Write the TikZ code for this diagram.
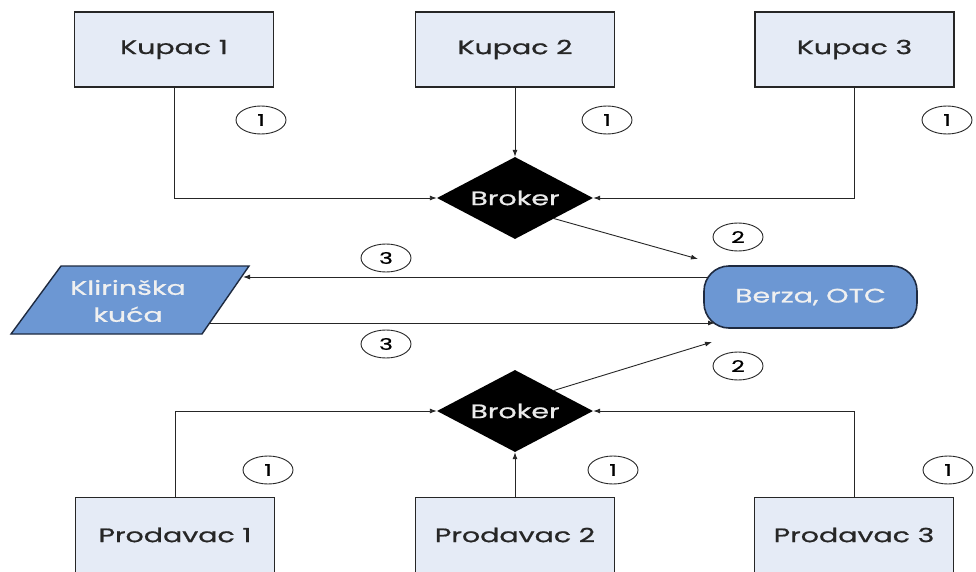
\documentclass[tikz,border=0pt]{standalone}
\usepackage{fontspec}
\setmainfont{Poppins}[FakeStretch=1.46, FakeBold=0.8]
\usetikzlibrary{shapes.geometric,arrows.meta}
\definecolor{boxfill}{RGB}{229,235,246}
\definecolor{midblue}{RGB}{108,151,211}
\definecolor{edge}{RGB}{38,38,38}
\definecolor{navy}{RGB}{30,42,64}
\begin{document}
\begin{tikzpicture}[x=1pt,y=-1pt,
  party/.style={draw=edge, line width=1.6pt, fill=boxfill, minimum width=199pt,
    minimum height=75pt, inner sep=0pt, text=black!85,
    font=\fontsize{19.5}{21}\selectfont},
  broker/.style={diamond, fill=black, shape aspect=1.9, minimum width=156pt,
    minimum height=82pt, inner sep=0pt, text=white!92!black,
    font=\fontsize{19.5}{21}\selectfont},
  numtag/.style={ellipse, draw=edge, line width=0.9pt, fill=white,
    minimum width=50pt, minimum height=28pt, inner sep=0pt,
    font=\fontsize{16}{16}\selectfont},
  flow/.style={draw=edge, line width=0.9pt, -{Latex[length=7pt,width=5pt]}}
]
\useasboundingbox (0,0) rectangle (976,572);
\fill[white] (0,0) rectangle (976,572);

% buyers
\node[party] (k1) at (174,49.5) {Kupac 1};
\node[party] (k2) at (515,49.5) {Kupac 2};
\node[party] (k3) at (854.5,49.5) {Kupac 3};

% sellers
\node[party] (p1) at (175,535) {Prodavac 1};
\node[party] (p2) at (515,535) {Prodavac 2};
\node[party] (p3) at (854,535) {Prodavac 3};

% brokers
\node[broker] (b1) at (515,198) {Broker};
\node[broker] (b2) at (515,411) {Broker};

% exchange
\node[draw=navy, line width=1.6pt, fill=midblue, rounded corners=25pt,
  minimum width=213pt, minimum height=62pt, inner sep=0pt, text=white!94!black,
  font=\fontsize{19.5}{21}\selectfont] (bz) at (810.5,297) {Berza, OTC};

% clearing house
\draw[draw=navy, line width=1.4pt, fill=midblue] (11,334) -- (61,266) -- (249,266) -- (202,334) -- cycle;
\node[align=center, text=white!94!black, font=\fontsize{19.5}{27}\selectfont] (kk) at (128,301) {Klirinška\\kuća};

% connector ends
\coordinate (kkU) at (243,277);
\coordinate (kkL) at (209,323);
\coordinate (bzU) at (708,277);
\coordinate (bzL) at (715,323);
\coordinate (toBzA) at (698,259);
\coordinate (toBzB) at (712,342);

% buyers to broker
\draw[flow] (k1.south) |- (b1.west);
\draw[flow] (k2.south) -- (b1.north);
\draw[flow] (k3.south) |- (b1.east);

% sellers to broker
\draw[flow] (p1.north) |- (b2.west);
\draw[flow] (p2.north) -- (b2.south);
\draw[flow] (p3.north) |- (b2.east);

% brokers to exchange
\draw[flow] (b1.south east) -- (toBzA);
\draw[flow] (b2.north east) -- (toBzB);

% exchange and clearing house
\draw[flow] (bzU) -- (kkU);
\draw[flow] (kkL) -- (bzL);

% step numbers
\node[numtag] (n1a) at (261,120) {1};
\node[numtag] (n1b) at (607,120) {1};
\node[numtag] (n1c) at (947,120) {1};
\node[numtag] (n1d) at (268,470) {1};
\node[numtag] (n1e) at (613,470) {1};
\node[numtag] (n1f) at (948,470) {1};
\node[numtag] (n2a) at (738,237) {2};
\node[numtag] (n2b) at (738,366) {2};
\node[numtag] (n3a) at (386,258) {3};
\node[numtag] (n3b) at (386,344) {3};
\end{tikzpicture}
\end{document}
